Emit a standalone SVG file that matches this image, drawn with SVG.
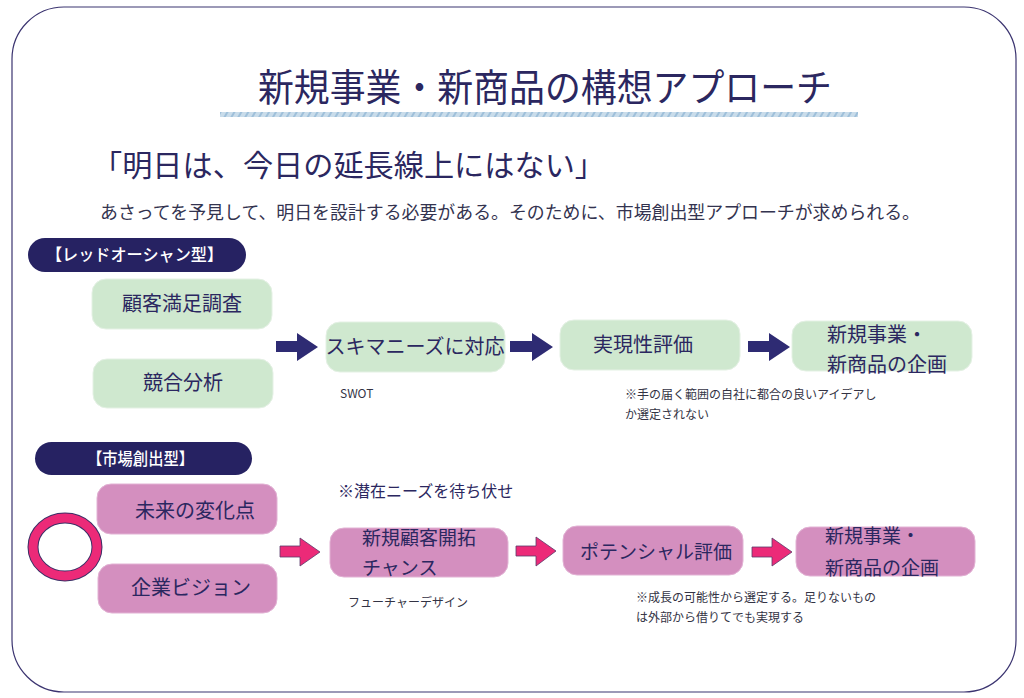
<svg xmlns="http://www.w3.org/2000/svg" width="1024" height="698" viewBox="0 0 1024 698">
<style>
text{font-family:"Noto Sans CJK JP","Noto Sans",sans-serif;fill:#2b2760}
.lbl{fill:#ffffff;font-size:16.5px;font-weight:500}
.bx{font-size:20px}
.note{font-size:12px;fill:#333344}
.g{fill:#cfe8cf;stroke:#e4f1e4;stroke-width:1}
.p{fill:#d48fbf;stroke:#e2b2d4;stroke-width:1}
.navy{fill:#262262}
.na{fill:#2e2b73}
.pa{fill:#ec2a78;stroke:#5a3a6a;stroke-width:0.8}
</style>
<defs>
<pattern id="stripe" width="6" height="6" patternUnits="userSpaceOnUse" patternTransform="rotate(30)">
<rect width="6" height="6" fill="#c9dcea"/>
<rect width="2" height="6" fill="#9fc0da"/>
</pattern>
</defs>
<rect x="0" y="0" width="1024" height="698" fill="#ffffff"/>
<rect x="12" y="7" width="1004" height="685" rx="52" fill="#ffffff" stroke="#3b3470" stroke-width="1.2"/>
<g id="title">
<text x="258" y="101" font-size="38" textLength="574" lengthAdjust="spacingAndGlyphs">新規事業・新商品の構想アプローチ</text>
<rect x="220" y="112" width="638" height="5" fill="url(#stripe)"/>
</g>
<g id="quote"><text x="92" y="176" font-size="30" textLength="513" lengthAdjust="spacingAndGlyphs">「明日は、今日の延長線上にはない」</text></g>
<g id="subtitle"><text x="100" y="219" font-size="18" textLength="820" lengthAdjust="spacingAndGlyphs" style="fill:#33334f">あさってを予見して、明日を設計する必要がある。そのために、市場創出型アプローチが求められる。</text></g>

<g id="label-red">
<rect class="navy" x="28" y="238" width="218" height="34" rx="17"/>
<text class="lbl" x="46" y="261" textLength="177" lengthAdjust="spacingAndGlyphs">【レッドオーシャン型】</text>
</g>
<g id="n-cs"><rect class="g" x="92" y="279" width="180" height="50" rx="14"/><text class="bx" x="182" y="311" text-anchor="middle">顧客満足調査</text></g>
<g id="n-comp"><rect class="g" x="93" y="359" width="180" height="49" rx="14"/><text class="bx" x="183" y="390" text-anchor="middle">競合分析</text></g>
<g id="n-niche"><rect class="g" x="326" y="322" width="179" height="50" rx="14"/><text class="bx" x="415" y="354" text-anchor="middle">スキマニーズに対応</text></g>
<g id="n-feas"><rect class="g" x="560" y="320" width="180" height="50" rx="14"/><text class="bx" x="593" y="352">実現性評価</text></g>
<g id="n-plan1"><rect class="g" x="792" y="321" width="180" height="50" rx="14"/><text class="bx" x="827" y="342">新規事業・</text><text class="bx" x="827" y="372">新商品の企画</text></g>
<g id="notes-red">
<text class="note" x="340" y="398">SWOT</text>
<text class="note" x="625" y="399">※手の届く範囲の自社に都合の良いアイデアし</text>
<text class="note" x="625" y="419">か選定されない</text>
</g>

<g id="label-market">
<rect class="navy" x="35" y="442" width="217" height="33" rx="16.5"/>
<text class="lbl" x="87" y="465" textLength="107" lengthAdjust="spacingAndGlyphs">【市場創出型】</text>
</g>
<g id="circle">
<ellipse cx="65" cy="547" rx="32" ry="29" fill="#ffffff" stroke="#3b2f66" stroke-width="11"/>
<ellipse cx="65" cy="547" rx="32" ry="29" fill="none" stroke="#ec2a78" stroke-width="9"/>
</g>
<g id="n-future"><rect class="p" x="97" y="484" width="180" height="50" rx="14"/><text class="bx" x="135" y="518">未来の変化点</text></g>
<g id="n-vision"><rect class="p" x="98" y="564" width="179" height="49" rx="14"/><text class="bx" x="131" y="595">企業ビジョン</text></g>
<g id="n-newcust"><rect class="p" x="330" y="528" width="178" height="49" rx="14"/><text x="362" y="545" font-size="19">新規顧客開拓</text><text x="362" y="575" font-size="19">チャンス</text></g>
<g id="n-pot"><rect class="p" x="563" y="526" width="180" height="49" rx="14"/><text x="580" y="559" font-size="19">ポテンシャル評価</text></g>
<g id="n-plan2"><rect class="p" x="796" y="527" width="179" height="49" rx="14"/><text x="825" y="543" font-size="19">新規事業・</text><text x="825" y="575" font-size="19">新商品の企画</text></g>
<g id="notes-market">
<text x="338" y="497" font-size="16">※潜在ニーズを待ち伏せ</text>
<text class="note" x="348" y="607">フューチャーデザイン</text>
<text class="note" x="636" y="602">※成長の可能性から選定する。足りないもの</text>
<text class="note" x="636" y="622">は外部から借りてでも実現する</text>
</g>

<g id="connectors">
<polygon class="na" points="276,341 297,341 297,333 318,347 297,361 297,352 276,352"/>
<polygon class="na" points="510,341 532,341 532,333 553,347 532,361 532,352 510,352"/>
<polygon class="na" points="748,341 769,341 769,333 790,347 769,361 769,352 748,352"/>
<polygon class="pa" points="280,546 300,546 300,538 320,552 300,566 300,557 280,557"/>
<polygon class="pa" points="516,546 536,546 536,537 556,551 536,566 536,556 516,556"/>
<polygon class="pa" points="752,547 772,547 772,538 792,552 772,566 772,557 752,557"/>
</g>
</svg>
